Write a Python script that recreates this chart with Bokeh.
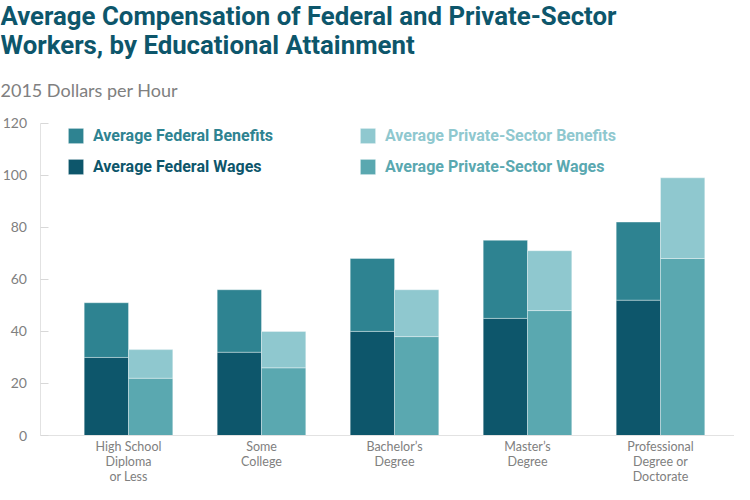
from bokeh.plotting import figure
from bokeh.models import (ColumnDataSource, Range1d, FixedTicker, Label, Legend, LegendItem)
from bokeh.transform import dodge
from bokeh.embed import file_html
from bokeh.resources import INLINE

# ---- data (2015 dollars per hour) ----
categories = ["High School\nDiploma\nor Less", "Some\nCollege", "Bachelor\u2019s\nDegree",
              "Master\u2019s\nDegree", "Professional\nDegree or\nDoctorate"]
federal_wages = [30, 32, 40, 45, 52]
federal_benefits = [21, 24, 28, 30, 30]
private_wages = [22, 26, 38, 48, 68]
private_benefits = [11, 14, 18, 23, 31]
y_ticks = [0, 20, 40, 60, 80, 100, 120]

TITLE1 = "Average Compensation of Federal and Private-Sector"
TITLE2 = "Workers, by Educational Attainment"
SUBTITLE = "2015 Dollars per Hour"

C_FW = "#0d566b"
C_FB = "#2e8391"
C_PW = "#5aa8b0"
C_PB = "#8fc8cf"
GRAY = "#808080"
BOLD = "Roboto"
SANS = "Lato"

W, H = 734, 484
idx = list(range(len(categories)))
src = ColumnDataSource(dict(x=idx, fw=federal_wages, fb=federal_benefits,
                            pw=private_wages, pb=private_benefits))

# frame covers the whole figure; axes are pinned inside it
X0, X1 = -0.9624, 4.5564
Y0, Y1 = -18.828, 167.147
p = figure(width=W, height=H, output_backend="svg", toolbar_location=None,
           x_range=Range1d(X0, X1), y_range=Range1d(Y0, Y1))
p.min_border = 0
p.outline_line_color = None
p.grid.visible = False
p.background_fill_color = "white"
p.border_fill_color = "white"

bw = 0.333
fed = p.vbar_stack(["fw", "fb"], x=dodge("x", -bw / 2, range=p.x_range), width=bw,
                   color=[C_FW, C_FB], line_color="white", line_alpha=0.35, line_width=1,
                   source=src)
pri = p.vbar_stack(["pw", "pb"], x=dodge("x", bw / 2, range=p.x_range), width=bw,
                   color=[C_PW, C_PB], line_color="white", line_alpha=0.35, line_width=1,
                   source=src)

YAX = -0.6654
# y axis
p.yaxis.fixed_location = YAX
p.yaxis.bounds = (0, 120)
p.yaxis.ticker = FixedTicker(ticks=y_ticks)
p.yaxis.axis_line_color = "#e2e2e2"
p.yaxis.major_tick_in = 8
p.yaxis.major_tick_out = 0
p.yaxis.major_tick_line_color = "#d8d8d8"
p.yaxis.minor_tick_line_color = None
p.yaxis.major_label_text_font = SANS
p.yaxis.major_label_text_font_size = "14px"
p.yaxis.major_label_text_color = GRAY
p.yaxis.major_label_standoff = 13

# x axis
p.xaxis.fixed_location = 0
p.xaxis.bounds = (YAX, X1)
p.xaxis.ticker = FixedTicker(ticks=idx)
p.xaxis.major_label_overrides = {i: c for i, c in zip(idx, categories)}
p.xaxis.axis_line_color = "#e2e2e2"
p.xaxis.major_tick_in = 0
p.xaxis.major_tick_out = 0
p.xaxis.major_tick_line_color = None
p.xaxis.minor_tick_line_color = None
p.xaxis.major_label_text_font = SANS
p.xaxis.major_label_text_font_size = "12.5px"
p.xaxis.major_label_text_line_height = 1.0
p.xaxis.major_label_text_color = GRAY
p.xaxis.major_label_standoff = 3

# legends (one per item so each label keeps its own colour); screen px from bottom-left
items = [("Average Federal Benefits", fed[1], C_FB, 66, 339),
         ("Average Federal Wages", fed[0], C_FW, 66, 308),
         ("Average Private-Sector Benefits", pri[1], C_PB, 358, 339),
         ("Average Private-Sector Wages", pri[0], C_PW, 358, 308)]
for lab, rend, col, lx, ly in items:
    lg = Legend(items=[LegendItem(label=lab, renderers=[rend])], location=(lx, ly),
                padding=0, margin=0, spacing=0, glyph_width=19, glyph_height=19,
                label_height=19, label_standoff=8, border_line_color=None,
                background_fill_alpha=0, label_text_font=BOLD,
                label_text_font_style="bold", label_text_font_size="16px",
                label_text_color=col)
    p.add_layout(lg)

# titles
p.add_layout(Label(x=0, y=469, x_units="screen", y_units="screen", text=TITLE1,
                   text_font=BOLD, text_font_style="bold", text_font_size="25.8px",
                   text_color=C_FW, text_baseline="alphabetic"))
p.add_layout(Label(x=0, y=440, x_units="screen", y_units="screen", text=TITLE2,
                   text_font=BOLD, text_font_style="bold", text_font_size="25.8px",
                   text_color=C_FW, text_baseline="alphabetic"))
p.add_layout(Label(x=0, y=395, x_units="screen", y_units="screen", text=SUBTITLE,
                   text_font=SANS, text_font_size="18px",
                   text_color=GRAY, text_baseline="alphabetic"))

open("out.html", "w").write(file_html(p, INLINE))
